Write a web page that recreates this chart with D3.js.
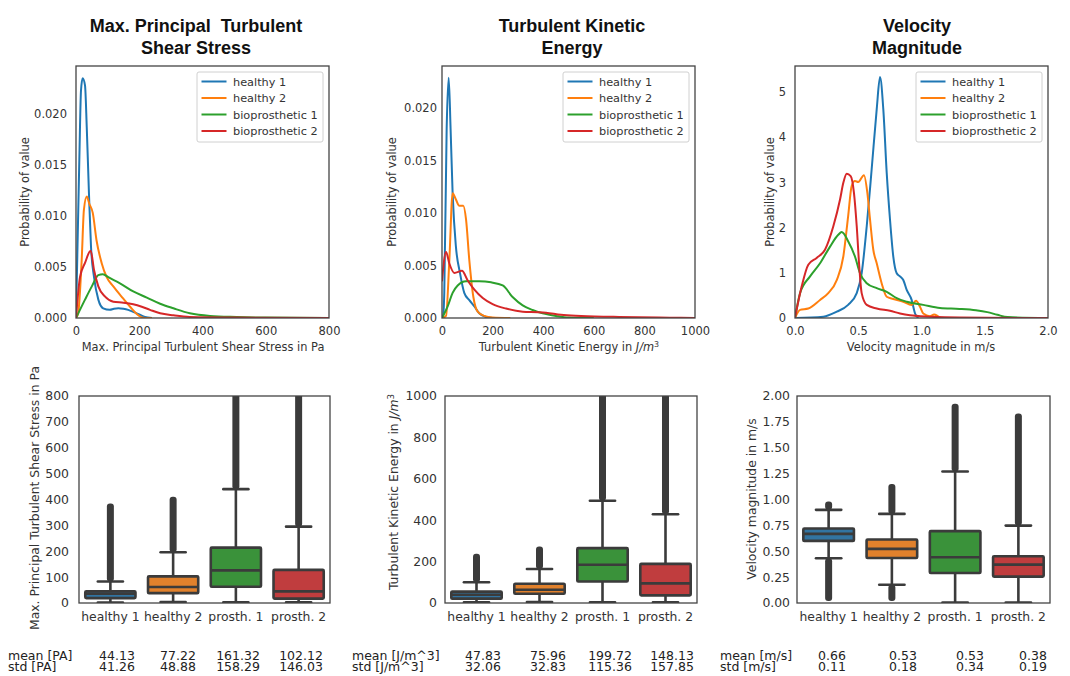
<!DOCTYPE html>
<html lang="en">
<head>
<meta charset="utf-8">
<script src="https://d3js.org/d3.v7.min.js"></script>
<title>Turbulence distributions</title>
<style>
  body { margin: 0; background: #fff; }
  svg text { font-family: "DejaVu Sans", sans-serif; }
</style>
</head>
<body>
<div id="chart"></div>
<script>
// ---- data ----
var groups = ["healthy 1", "healthy 2", "bioprosthetic 1", "bioprosthetic 2"];
var boxLabels = ["healthy 1", "healthy 2", "prosth. 1", "prosth. 2"];
var lineColors = ["#1f77b4", "#ff7f0e", "#2ca02c", "#d62728"];
var boxColors = ["#3274a1", "#e1812c", "#3a923a", "#c03d3e"];

// max. principal turbulent shear stress densities [Pa, probability]
var wssHealthy1 = [[0,0],[10.5,0.0155],[15.8,0.0223],[21,0.0235],[28.5,0.0228],[34,0.0187],[41,0.0122],[47.4,0.007],[57,0.004],[70.6,0.0018],[86,0.00095],[107,0.0008],[120,0.0009],[134,0.00095],[150,0.0009],[165,0.0008],[192,0.00046],[218,0.0001],[240,0]];
var wssHealthy2 = [[0,0],[7,0.0005],[18,0.0057],[25,0.0106],[34,0.0119],[42,0.0112],[53,0.0103],[65,0.0076],[81,0.0054],[97,0.004],[118,0.0031],[144,0.0021],[171,0.0011],[192,0.0004],[218,0],[240,0]];
var wssBio1 = [[0,0],[28.5,0.0018],[50,0.0031],[70.6,0.0042],[85,0.0043],[102,0.004],[139,0.0034],[181,0.0026],[224,0.002],[266,0.0014],[308,0.00095],[360,0.00046],[424,0.0002],[508,0.0001],[600,0.00004],[800,0.00001]];
var wssBio2 = [[0,0],[12.6,0.004],[28.5,0.0054],[46.4,0.0066],[57,0.0047],[70.6,0.0031],[92,0.0021],[118,0.0016],[150,0.0015],[181,0.00134],[208,0.0011],[234,0.0008],[266,0.00046],[308,0.00026],[360,0.0001],[500,0.00004],[800,0.00001]];

// turbulent kinetic energy densities [J/m^3, probability]
var tkeHealthy1 = [[0,0],[5,0.0003],[9,0.0024],[18.4,0.018],[26.4,0.0229],[34,0.018],[42,0.0119],[55,0.0068],[71,0.0043],[88,0.0024],[108,0.0017],[128,0.0011],[147,0.00045],[174,0.0001],[200,0]];
var tkeHealthy2 = [[0,0],[16,0.0002],[29,0.0055],[42,0.0119],[55,0.0113],[68.5,0.0107],[84,0.0107],[95,0.0094],[108,0.0055],[124,0.002],[141,0.0006],[167,0.0002],[200,0.00005],[270,0]];
var tkeBio1 = [[0,0],[22.4,0.0011],[42,0.0024],[62,0.0031],[95,0.0035],[147,0.0035],[194,0.0034],[240,0.0031],[279,0.002],[319,0.0012],[358,0.00076],[398,0.00045],[451,0.0002],[500,0.00005],[600,0.00001]];
var tkeBio2 = [[0,0.0035],[16,0.0063],[29,0.0052],[49,0.0043],[79,0.0045],[101,0.0036],[128,0.0027],[161,0.0019],[200,0.00132],[253,0.0009],[319,0.0006],[380,0.00055],[411,0.0005],[470,0.0003],[550,0.0002],[700,0.0001],[900,0.00003],[1000,0.00001]];

// velocity magnitude densities [m/s, probability]
var velHealthy1 = [[0,0],[0.224,0.03],[0.33,0.14],[0.42,0.29],[0.488,0.55],[0.527,0.99],[0.567,2.03],[0.606,3.29],[0.646,4.62],[0.672,5.33],[0.698,4.62],[0.725,3.21],[0.751,2.18],[0.777,1.36],[0.804,0.99],[0.83,0.92],[0.856,0.84],[0.883,0.62],[0.922,0.4],[0.949,0.1],[0.975,0]];
var velHealthy2 = [[0,0],[0.04,0.18],[0.105,0.21],[0.198,0.4],[0.263,0.55],[0.33,0.84],[0.382,1.36],[0.42,2.25],[0.448,2.92],[0.474,3.03],[0.5,3.01],[0.545,3.16],[0.572,2.77],[0.593,2.18],[0.619,1.51],[0.646,1.21],[0.685,0.77],[0.725,0.47],[0.777,0.42],[0.856,0.36],[0.922,0.29],[0.957,0.38],[0.988,0.25],[1.014,0.1],[1.067,0.04],[1.1,0.08],[1.15,0]];
var velBio1 = [[0,0],[0.04,0.55],[0.119,0.92],[0.198,1.21],[0.277,1.58],[0.342,1.84],[0.369,1.9],[0.42,1.7],[0.474,1.36],[0.514,0.99],[0.567,0.77],[0.646,0.66],[0.725,0.58],[0.804,0.44],[0.883,0.36],[1.014,0.29],[1.146,0.22],[1.3,0.2],[1.43,0.17],[1.52,0.13],[1.6,0.07],[1.68,0.02],[2.0,0]];
var velBio2 = [[0,0],[0.053,0.7],[0.105,1.18],[0.171,1.33],[0.237,1.51],[0.303,2.03],[0.356,2.62],[0.382,2.99],[0.409,3.19],[0.44,3.14],[0.466,2.77],[0.488,2.03],[0.508,1.14],[0.527,0.55],[0.567,0.29],[0.646,0.21],[0.751,0.16],[0.83,0.1],[0.909,0.06],[1.07,0.03],[1.3,0.01],[2.0,0]];

// box plot statistics: whisker low, q1, median, q3, whisker high, outlier ranges
var wssBox = [
  {lo: 2, q1: 19, med: 36, q3: 45, hi: 83, out: [[83, 385]]},
  {lo: 4, q1: 38, med: 62, q3: 103, hi: 196, out: [[196, 411]]},
  {lo: 3, q1: 63, med: 126, q3: 214, hi: 440, out: [[440, 850]]},
  {lo: 3, q1: 17, med: 45, q3: 128, hi: 295, out: [[295, 850]]}
];
var tkeBox = [
  {lo: 3, q1: 21, med: 40, q3: 55, hi: 100, out: [[100, 238]]},
  {lo: 5, q1: 45, med: 64, q3: 93, hi: 164, out: [[164, 273]]},
  {lo: 3, q1: 104, med: 185, q3: 265, hi: 494, out: [[494, 1050]]},
  {lo: 3, q1: 37, med: 95, q3: 189, hi: 429, out: [[429, 1050]]}
];
var velBox = [
  {lo: 0.432, q1: 0.60, med: 0.668, q3: 0.72, hi: 0.90, out: [[0.90, 0.98], [0.02, 0.432]]},
  {lo: 0.177, q1: 0.435, med: 0.523, q3: 0.613, hi: 0.861, out: [[0.861, 1.15], [0.02, 0.177]]},
  {lo: 0.005, q1: 0.29, med: 0.442, q3: 0.694, hi: 1.27, out: [[1.27, 1.925]]},
  {lo: 0.005, q1: 0.255, med: 0.371, q3: 0.452, hi: 0.748, out: [[0.748, 1.83]]}
];

var wssMean = ["44.13", "77.22", "161.32", "102.12"], wssStd = ["41.26", "48.88", "158.29", "146.03"];
var tkeMean = ["47.83", "75.96", "199.72", "148.13"], tkeStd = ["32.06", "32.83", "115.36", "157.85"];
var velMean = ["0.66", "0.53", "0.53", "0.38"], velStd = ["0.11", "0.18", "0.34", "0.19"];

// ---- layout ----
var svg = d3.select("#chart").append("svg").attr("width", 1070).attr("height", 676);
var ink = "#333";

var panels = [
  {title: ["Max. Principal  Turbulent", "Shear Stress"], titleX: 196,
   dens: [wssHealthy1, wssHealthy2, wssBio1, wssBio2], xMax: 800, xStep: 200, xFmt: "d", yMax: 0.0247, yTicks: [0, 0.005, 0.01, 0.015, 0.02], yFmt: ".3f",
   xLabel: [["Max. Principal Turbulent Shear Stress in Pa"]], xLabelX: 203,
   top: {x0: 76, x1: 329, yLabX: 25, gap: 9},
   box: wssBox, bMax: 800, bTicks: d3.range(0, 801, 100), bFmt: "d",
   bLabel: [["Max. Principal Turbulent Shear Stress in Pa"]],
   bot: {x0: 79, x1: 330, yLabX: 34, yLabY: 498, gap: 10},
   stat: {unit: "[PA]", x: 8, cols: [117, 178, 238, 301], mean: wssMean, std: wssStd}},
  {title: ["Turbulent Kinetic", "Energy"], titleX: 572,
   dens: [tkeHealthy1, tkeHealthy2, tkeBio1, tkeBio2], xMax: 1000, xStep: 200, xFmt: "d", yMax: 0.02403, yTicks: [0, 0.005, 0.01, 0.015, 0.02], yFmt: ".3f",
   xLabel: [["Turbulent Kinetic Energy in "], ["J/m", "i"], ["3", "sup"]], xLabelX: 569,
   top: {x0: 442, x1: 695, yLabX: 392, gap: 5},
   box: tkeBox, bMax: 1000, bTicks: d3.range(0, 1001, 200), bFmt: "d",
   bLabel: [["Turbulent Kinetic Energy in "], ["J/m", "i"], ["3", "sup"]],
   bot: {x0: 445, x1: 697, yLabX: 393, yLabY: 492, gap: 8},
   stat: {unit: "[J/m^3]", x: 352, cols: [483, 548, 610, 672], mean: tkeMean, std: tkeStd}},
  {title: ["Velocity", "Magnitude"], titleX: 917,
   dens: [velHealthy1, velHealthy2, velBio1, velBio2], xMax: 2, xStep: 0.5, xFmt: ".1f", yMax: 5.575, yTicks: [0, 1, 2, 3, 4, 5], yFmt: "d",
   xLabel: [["Velocity magnitude in m/s"]], xLabelX: 921,
   top: {x0: 795, x1: 1048, yLabX: 770, gap: 9},
   box: velBox, bMax: 2, bTicks: d3.range(0, 2.001, 0.25), bFmt: ".2f",
   bLabel: [["Velocity magnitude in m/s"]],
   bot: {x0: 797, x1: 1050, yLabX: 751, yLabY: 499, gap: 7},
   stat: {unit: "[m/s]", x: 720, cols: [832, 903, 970, 1033], mean: velMean, std: velStd}}
];

var topY0 = 66, topY1 = 318, botY0 = 396, botY1 = 603;

function richText(sel, parts) {
  parts.forEach(function(p) {
    var t = sel.append("tspan").text(p[0]);
    if (p[1] === "i") t.attr("font-style", "italic");
    if (p[1] === "sup") t.attr("font-size", "0.7em").attr("dy", "-0.45em");
  });
}

panels.forEach(function(p, pi) {
  // title
  var title = svg.append("text").attr("x", p.titleX).attr("text-anchor", "middle")
      .style("font-family", "'Liberation Sans', Arial, sans-serif").style("white-space", "pre")
      .attr("font-weight", "bold").attr("font-size", 18).attr("fill", "#111");
  title.append("tspan").attr("x", p.titleX).attr("y", 31.5).text(p.title[0]);
  title.append("tspan").attr("x", p.titleX).attr("y", 53.5).text(p.title[1]);

  // ---- density plot ----
  var x = d3.scaleLinear().domain([0, p.xMax]).range([p.top.x0, p.top.x1]);
  var y = d3.scaleLinear().domain([0, p.yMax]).range([topY1, topY0]);
  var g = svg.append("g");

  var xa = g.append("g").attr("transform", "translate(0," + topY1 + ")")
    .call(d3.axisBottom(x).tickValues(d3.range(0, p.xMax + 1e-9, p.xStep)).tickFormat(d3.format(p.xFmt)).tickSize(0).tickPadding(9));
  var ya = g.append("g").attr("transform", "translate(" + p.top.x0 + ",0)")
    .call(d3.axisLeft(y).tickValues(p.yTicks).tickFormat(d3.format(p.yFmt)).tickSize(0).tickPadding(p.top.gap));
  [xa, ya].forEach(function(a) {
    a.select(".domain").remove();
    a.selectAll("text").attr("font-size", 11.5).attr("fill", ink).style("font-family", "'DejaVu Sans', sans-serif");
  });

  var clipId = "clipTop" + pi;
  svg.append("clipPath").attr("id", clipId).append("rect")
    .attr("x", p.top.x0).attr("y", topY0).attr("width", p.top.x1 - p.top.x0).attr("height", topY1 - topY0);

  var line = d3.line().x(function(d) { return x(d[0]); }).y(function(d) { return y(d[1]); }).curve(d3.curveMonotoneX);
  g.append("g").attr("clip-path", "url(#" + clipId + ")")
    .selectAll("path").data(p.dens).join("path")
    .attr("d", line).attr("fill", "none")
    .attr("stroke", function(d, i) { return lineColors[i]; })
    .attr("stroke-width", 2).attr("stroke-linejoin", "round");

  g.append("rect").attr("x", p.top.x0).attr("y", topY0)
    .attr("width", p.top.x1 - p.top.x0).attr("height", topY1 - topY0)
    .attr("fill", "none").attr("stroke", "#444").attr("stroke-width", 1.3);

  // legend
  var lx = p.top.x1 - 132, ly = topY0 + 6;
  var leg = g.append("g").attr("transform", "translate(" + lx + "," + ly + ")");
  leg.append("rect").attr("width", 126).attr("height", 70).attr("rx", 2)
    .attr("fill", "#fff").attr("stroke", "#d0d0d0").attr("stroke-width", 1);
  groups.forEach(function(name, i) {
    var yy = 9.5 + i * 16.5;
    leg.append("line").attr("x1", 4.5).attr("x2", 29.5).attr("y1", yy).attr("y2", yy)
      .attr("stroke", lineColors[i]).attr("stroke-width", 2);
    leg.append("text").attr("x", 36).attr("y", yy + 4).attr("font-size", 11.3).attr("fill", ink).text(name);
  });

  // axis labels
  richText(g.append("text").attr("x", p.xLabelX).attr("y", 351).attr("text-anchor", "middle")
    .attr("font-size", 11.4).attr("fill", ink), p.xLabel);
  g.append("text").attr("transform", "translate(" + (p.top.yLabX + 4) + "," + 192 + ") rotate(-90)")
    .attr("text-anchor", "middle").attr("font-size", 11.4).attr("fill", ink).text("Probability of value");

  // ---- box plot ----
  var bx = d3.scaleBand().domain(boxLabels).range([p.bot.x0, p.bot.x1]);
  var by = d3.scaleLinear().domain([0, p.bMax]).range([botY1, botY0]);
  var bg = svg.append("g");

  var bxa = bg.append("g").attr("transform", "translate(0," + botY1 + ")")
    .call(d3.axisBottom(bx).tickSize(0).tickPadding(9));
  var bya = bg.append("g").attr("transform", "translate(" + p.bot.x0 + ",0)")
    .call(d3.axisLeft(by).tickValues(p.bTicks).tickFormat(d3.format(p.bFmt)).tickSize(0).tickPadding(p.bot.gap));
  [bxa, bya].forEach(function(a) {
    a.select(".domain").remove();
    a.selectAll("text").attr("font-size", 12.4).attr("fill", ink).style("font-family", "'DejaVu Sans', sans-serif");
  });

  var bClip = "clipBot" + pi;
  svg.append("clipPath").attr("id", bClip).append("rect")
    .attr("x", p.bot.x0).attr("y", botY0).attr("width", p.bot.x1 - p.bot.x0).attr("height", botY1 - botY0);

  var bw = bx.bandwidth() * 0.8;
  var edge = "#3b3b3b";
  var boxes = bg.append("g").attr("clip-path", "url(#" + bClip + ")")
    .selectAll("g").data(p.box).join("g")
    .attr("transform", function(d, i) { return "translate(" + (bx(boxLabels[i]) + bx.bandwidth() / 2) + ",0)"; });

  boxes.each(function(d, i) {
    var b = d3.select(this);
    d.out.forEach(function(r) {
      b.append("rect").attr("x", -3.5).attr("width", 7)
        .attr("y", by(r[1])).attr("height", by(r[0]) - by(r[1]))
        .attr("rx", 3).attr("fill", edge);
    });
    b.append("line").attr("y1", by(d.lo)).attr("y2", by(d.hi))
      .attr("stroke", edge).attr("stroke-width", 2.6);
    b.append("rect").attr("x", -bw / 2).attr("width", bw)
      .attr("y", by(d.q3)).attr("height", by(d.q1) - by(d.q3))
      .attr("fill", boxColors[i]).attr("stroke", edge).attr("stroke-width", 2.6).attr("rx", 1);
    b.append("line").attr("x1", -bw / 2).attr("x2", bw / 2).attr("y1", by(d.med)).attr("y2", by(d.med))
      .attr("stroke", edge).attr("stroke-width", 2.6);
    [d.lo, d.hi].forEach(function(v) {
      b.append("line").attr("x1", -bw / 4).attr("x2", bw / 4).attr("y1", by(v)).attr("y2", by(v))
        .attr("stroke", edge).attr("stroke-width", 2.6).attr("stroke-linecap", "round");
    });
  });

  bg.append("rect").attr("x", p.bot.x0).attr("y", botY0)
    .attr("width", p.bot.x1 - p.bot.x0).attr("height", botY1 - botY0)
    .attr("fill", "none").attr("stroke", "#444").attr("stroke-width", 1.3);

  richText(bg.append("text").attr("transform", "translate(" + (p.bot.yLabX + 4.5) + "," + p.bot.yLabY + ") rotate(-90)")
    .attr("text-anchor", "middle").attr("font-size", 12.4).attr("fill", ink), p.bLabel);

  // ---- mean / std rows ----
  var st = svg.append("g").attr("font-size", 12.5).attr("fill", "#222");
  st.append("text").attr("x", p.stat.x).attr("y", 659.5).text("mean " + p.stat.unit);
  st.append("text").attr("x", p.stat.x).attr("y", 670.5).text("std " + p.stat.unit);
  p.stat.cols.forEach(function(cx, i) {
    st.append("text").attr("x", cx).attr("y", 659.5).attr("text-anchor", "middle").text(p.stat.mean[i]);
    st.append("text").attr("x", cx).attr("y", 670.5).attr("text-anchor", "middle").text(p.stat.std[i]);
  });
});
</script>
</body>
</html>
